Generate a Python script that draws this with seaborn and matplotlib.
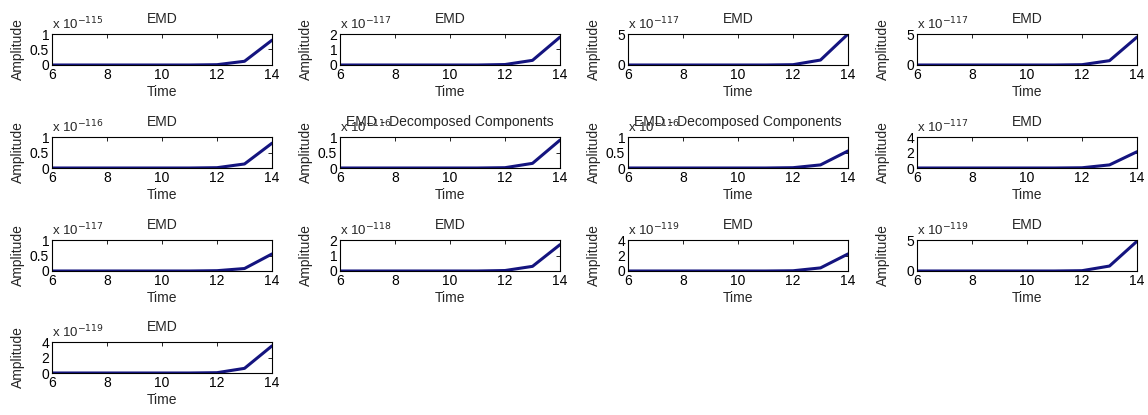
import matplotlib
matplotlib.use('Agg')
import matplotlib.pyplot as plt
import numpy as np
import pandas as pd
import seaborn as sns

sns.set_style('white')
plt.rcParams['font.family'] = ['Liberation Sans', 'DejaVu Sans']

# time axis and the 13 decomposed components (values in units of 10^exp)
time = [6, 7, 8, 9, 10, 11, 12, 13, 14]
exps = [-115, -117, -117, -117, -116, -116, -116, -117, -117, -118, -119, -119, -119]
titles = ['EMD', 'EMD', 'EMD', 'EMD', 'EMD', 'EMD - Decomposed Components',
          'EMD - Decomposed Components', 'EMD', 'EMD', 'EMD', 'EMD', 'EMD', 'EMD']
comp_at_12 = [0.01, 0.03, 0.05, 0.05, 0.01, 0.01, 0.01, 0.03, 0.01, 0.03, 0.03, 0.05, 0.04]
comp_at_13 = [0.12, 0.30, 0.80, 0.70, 0.13, 0.15, 0.10, 0.40, 0.08, 0.30, 0.40, 0.80, 0.60]
comp_at_14 = [0.80, 1.80, 5.00, 4.50, 0.80, 0.90, 0.55, 2.10, 0.55, 1.70, 2.20, 4.80, 3.50]
ytops = [1, 2, 5, 5, 1, 1, 1, 4, 1, 2, 4, 5, 4]
yticks = [[0, 0.5, 1], [0, 1, 2], [0, 5], [0, 5], [0, 0.5, 1], [0, 0.5, 1], [0, 0.5, 1],
          [0, 2, 4], [0, 0.5, 1], [0, 1, 2], [0, 2, 4], [0, 5], [0, 2, 4]]

W, H = 1148, 415
fig = plt.figure(figsize=(W / 100, H / 100), dpi=100)
lefts = [52, 340, 628, 917]
tops = [34, 137, 240, 342]
aw, ah = 220, 31
col = '#14147f'

for i in range(13):
    r, c = divmod(i, 4)
    ax = fig.add_axes([lefts[c] / W, 1 - (tops[r] + ah) / H, aw / W, ah / H])
    vals = [0, 0, 0, 0, 0, 0, comp_at_12[i], comp_at_13[i], comp_at_14[i]]
    df = pd.DataFrame({'Time': time, 'Amplitude': vals})
    sns.lineplot(data=df, x='Time', y='Amplitude', ax=ax, color=col, linewidth=2.2)
    ax.set_xlim(6, 14)
    ax.set_ylim(0, ytops[i])
    ax.set_xticks([6, 8, 10, 12, 14])
    ax.set_yticks(yticks[i])
    ax.set_yticklabels(['%g' % t for t in yticks[i]])
    ax.tick_params(direction='in', length=3, width=0.6, top=True, right=True,
                   labelsize=10, pad=2, colors='black')
    ax.tick_params(axis='y', pad=2)
    for s in ax.spines.values():
        s.set_color('black')
        s.set_linewidth(0.8)
        s.set_visible(True)
    ax.set_xlabel('Time', fontsize=10, labelpad=2)
    ax.set_ylabel('Amplitude', fontsize=10)
    ax.yaxis.set_label_coords(-27 / aw, 0.5)
    ax.set_title(titles[i], fontsize=10, pad=8)
    ax.text(0.0, 1.07, 'x 10$^{%d}$' % exps[i], transform=ax.transAxes,
            fontsize=9.5, ha='left', va='bottom')

fig.savefig('out.png', dpi=100, facecolor='white')
